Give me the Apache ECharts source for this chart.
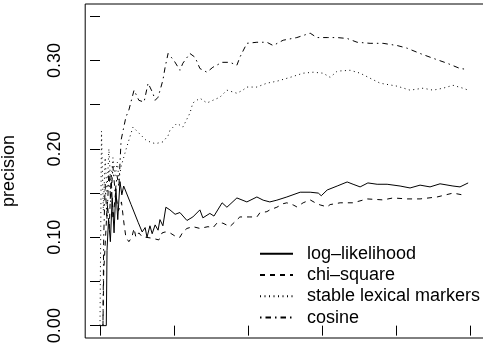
<!DOCTYPE html>
<html>
<head>
<meta charset="utf-8">
<script src="https://cdn.jsdelivr.net/npm/echarts@6/dist/echarts.min.js"></script>
<style>
    html, body { margin: 0; padding: 0; background: #fff; }
    .main { width: 483px; height: 347px; }
</style>
</head>
<body>
<div class="main" id="main"></div>
<script>
// values, [x, precision]
var logLikelihood = [[0,0],[1.7,0],[1.9,0.085],[2.3,0.12],[2.8,0.095],[3.3,0.145],[3.8,0.105],[4.3,0.155],[4.8,0.12],[5.4,0.163],[5.9,0.148],[6.4,0.158],[8.4,0.137],[10.3,0.117],[11.4,0.106],[12.2,0.111],[12.7,0.1],[13.5,0.113],[14.1,0.104],[14.9,0.114],[15.7,0.108],[16.2,0.12],[17.0,0.113],[17.8,0.134],[18.9,0.131],[20.3,0.126],[21.6,0.128],[23.5,0.119],[25.1,0.123],[27.0,0.131],[27.8,0.122],[29.7,0.127],[30.8,0.124],[33.0,0.139],[34.3,0.134],[37.0,0.1445],[39.7,0.140],[42.4,0.1456],[44.1,0.142],[45.9,0.140],[47.8,0.142],[50.5,0.1456],[54.1,0.151],[56.8,0.151],[59.0,0.150],[59.8,0.147],[61.4,0.1535],[64.1,0.158],[66.8,0.1626],[68.4,0.16],[70.3,0.157],[72.4,0.1615],[74.9,0.160],[77.6,0.160],[81.1,0.158],[83.8,0.1558],[86.5,0.159],[89.2,0.157],[91.9,0.1605],[95.4,0.158],[97.3,0.157],[99.5,0.1615]];

var chiSquare = [[0.8,0],[1.0,0.06],[1.5,0.1],[2.0,0.14],[2.5,0.11],[3.0,0.17],[3.5,0.12],[4.2,0.15],[5.0,0.13],[5.8,0.14],[6.5,0.115],[7.0,0.1],[7.8,0.095],[8.6,0.1],[9.2,0.11],[9.7,0.1],[10.5,0.105],[11.5,0.1],[12.4,0.1],[14,0.099],[15.9,0.097],[16.8,0.105],[17.6,0.106],[18.9,0.105],[20.8,0.1],[21.6,0.1],[22.4,0.106],[23.5,0.11],[25.1,0.112],[27.0,0.11],[29.2,0.112],[30.5,0.1106],[31.6,0.116],[33.2,0.116],[35.1,0.112],[37.8,0.123],[40.5,0.123],[42.4,0.123],[43.2,0.1276],[45.1,0.129],[45.9,0.131],[47.8,0.134],[49.5,0.138],[50.5,0.139],[52.2,0.1366],[53.2,0.1344],[54.9,0.139],[56.8,0.1423],[58.6,0.138],[59.5,0.1366],[61.4,0.1344],[62.2,0.137],[64.9,0.139],[68.4,0.139],[72.2,0.1434],[76.5,0.1423],[79.2,0.1445],[83.0,0.1434],[86.5,0.1434],[91.1,0.1456],[95.4,0.150],[98.6,0.1475]];

var stableMarkers = [[0,0],[0.3,0],[0.4,0.22],[0.9,0.13],[1.4,0.19],[1.9,0.15],[2.4,0.2],[2.9,0.16],[3.5,0.19],[4.1,0.17],[4.7,0.185],[5.1,0.165],[5.7,0.18],[7.0,0.199],[8.9,0.2247],[10.5,0.218],[12.4,0.21],[14.0,0.207],[15.1,0.206],[17.0,0.208],[18.4,0.215],[18.9,0.221],[20.8,0.229],[22.4,0.2247],[24.3,0.2405],[25.1,0.252],[27.0,0.2574],[28.9,0.252],[30.5,0.255],[32.4,0.2585],[34.3,0.2665],[37.0,0.263],[38.6,0.2665],[39.7,0.270],[42.4,0.270],[45.1,0.2744],[47.8,0.2766],[51.4,0.281],[54.9,0.2857],[57.6,0.2868],[60.3,0.2857],[62.2,0.281],[64.1,0.288],[67.6,0.289],[70.3,0.2857],[73.0,0.280],[75.7,0.2744],[80.3,0.271],[83.8,0.2665],[87.3,0.2687],[90.0,0.2665],[92.7,0.2687],[95.4,0.272],[98.1,0.2687],[99.5,0.2665]];

var cosine = [[0.8,0],[1.0,0.1],[1.4,0.16],[1.9,0.12],[2.4,0.175],[2.9,0.14],[3.5,0.18],[4.1,0.15],[4.6,0.17],[5.1,0.157],[5.7,0.21],[7.0,0.236],[7.8,0.244],[9.2,0.2665],[10.5,0.255],[11.9,0.253],[13.0,0.2744],[13.5,0.27],[14.3,0.263],[14.9,0.255],[15.7,0.2585],[17.0,0.2778],[17.6,0.2924],[18.4,0.308],[18.9,0.309],[20.0,0.300],[21.6,0.289],[22.4,0.297],[24.3,0.308],[25.7,0.3037],[27.0,0.291],[28.9,0.2868],[30.5,0.2924],[33.0,0.298],[35.1,0.298],[37.0,0.2947],[37.8,0.3037],[39.7,0.3195],[42.4,0.3207],[45.1,0.3207],[46.8,0.317],[49.5,0.323],[53.2,0.326],[56.8,0.331],[58.6,0.326],[61.4,0.326],[64.1,0.326],[66.8,0.325],[69.5,0.3207],[73.0,0.3195],[76.5,0.3195],[80.3,0.317],[83.0,0.314],[86.5,0.308],[90.0,0.3026],[93.8,0.297],[97.3,0.291],[99.2,0.29]];

var seriesNames = ['log\u2013likelihood', 'chi\u2013square', 'stable lexical markers', 'cosine'];
var xTicks = [0, 20, 40, 60, 80, 100];
var yTicks = [0, 0.05, 0.10, 0.15, 0.20, 0.25, 0.30, 0.35];
var yTickLabels = [0, 0.10, 0.20, 0.30];

var myChart = echarts.init(document.getElementById('main'));
var font = 'Liberation Sans';

function lineSeries(name, data, dash) {
    return {
        name: name,
        type: 'line',
        data: data,
        symbol: 'none',
        color: '#000',
        lineStyle: { color: '#000', width: 1, type: dash }
    };
}

var option = {
    animation: false,
    grid: {
        left: 85.2, top: 4, width: 399.6, height: 334,
        outerBoundsMode: 'none',
        containLabel: false,
        show: true, borderColor: '#000', borderWidth: 1, backgroundColor: 'transparent'
    },
    legend: {
        orient: 'vertical',
        left: 259, top: 243,
        padding: 0,
        itemWidth: 33, itemHeight: 14, itemGap: 0,
        // hide the symbol in the legend icon, keep the line sample
        itemStyle: { opacity: 0 },
        textStyle: { fontFamily: font, fontSize: 18, lineHeight: 21.3, color: '#000', padding: [0, 0, 0, 9] },
        data: seriesNames
    },
    xAxis: {
        type: 'value',
        min: -4, max: 104,
        axisLine: { show: false },
        splitLine: { show: false },
        axisTick: { show: true, length: 10, customValues: xTicks, lineStyle: { color: '#000' } },
        axisLabel: { show: false }
    },
    yAxis: {
        type: 'value',
        min: -0.014, max: 0.364,
        name: 'precision',
        nameLocation: 'middle',
        nameGap: 67,
        nameTextStyle: { fontFamily: font, fontSize: 18, color: '#000' },
        axisLine: { show: false },
        splitLine: { show: false },
        axisTick: { show: true, length: 10, customValues: yTicks, lineStyle: { color: '#000' } },
        axisLabel: {
            rotate: 90, margin: 21,
            customValues: yTickLabels,
            fontFamily: font, fontSize: 18, color: '#000',
            formatter: function (v) { return v.toFixed(2); }
        }
    },
    series: [
        lineSeries(seriesNames[0], logLikelihood, 'solid'),
        lineSeries(seriesNames[1], chiSquare, [5, 5]),
        lineSeries(seriesNames[2], stableMarkers, [1, 3.5]),
        lineSeries(seriesNames[3], cosine, [1.5, 4, 5.5, 4])
    ]
};

myChart.setOption(option);
</script>
</body>
</html>
